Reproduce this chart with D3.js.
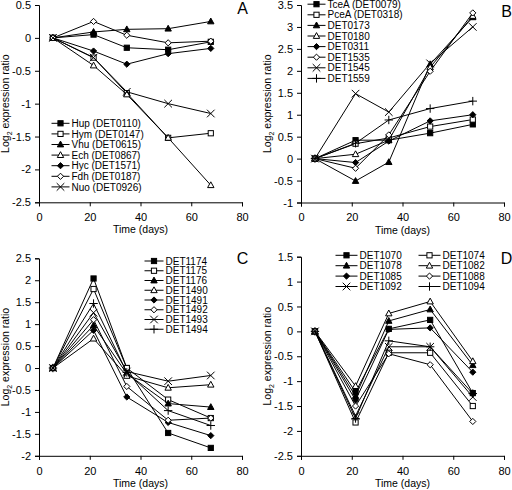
<!DOCTYPE html>
<html><head><meta charset="utf-8">
<script src="https://cdn.jsdelivr.net/npm/d3@7"></script>
<style>body{margin:0;background:#fff}svg{display:block}text{font-family:"Liberation Sans",Arial,sans-serif}</style>
</head><body>
<script>
// ---- data ----
const days = [5.5, 21.5, 34.6, 50.9, 67.7];
const xTicks = [0, 20, 40, 60, 80];

const namesA = ["Hup (DET0110)","Hym (DET0147)","Vhu (DET0615)","Ech (DET0867)","Hyc (DET1571)","Fdh (DET0187)","Nuo (DET0926)"];
const valuesA = [
  [0, 0.05, -0.15, -0.18, -0.06],
  [0, -0.30, -0.84, -1.52, -1.45],
  [0, 0.09, 0.13, 0.14, 0.25],
  [0, -0.42, -0.86, -1.52, -2.24],
  [0, -0.20, -0.40, -0.24, -0.16],
  [0, 0.25, 0.04, -0.075, -0.05],
  [0, -0.30, -0.82, -1.00, -1.15]
];
const yTicksA = [0.5, 0, -0.5, -1, -1.5, -2, -2.5];

const namesB = ["TceA (DET0079)","PceA (DET0318)","DET0173","DET0180","DET0311","DET1535","DET1545","DET1559"];
const valuesB = [
  [0, 0.42, 0.42, 0.58, 0.78],
  [0, 0.34, 0.47, 0.73, 0.89],
  [0, -0.51, -0.08, 2.15, 3.22],
  [0, 0.10, 0.42, 2.08, 3.25],
  [0, -0.09, 0.40, 0.86, 1.00],
  [0, -0.22, 0.54, 1.99, 3.32],
  [0, 1.48, 1.06, 2.17, 3.00],
  [0, 0.35, 0.88, 1.14, 1.31]
];
const yTicksB = [3.5, 3, 2.5, 2, 1.5, 1, 0.5, 0, -0.5, -1];

const namesC = ["DET1174","DET1175","DET1176","DET1490","DET1491","DET1492","DET1493","DET1494"];
const valuesC = [
  [0, 2.04, 0.00, -1.48, -1.82],
  [0, 1.80, 0.00, -0.72, -1.14],
  [0, 0.97, -0.13, -0.81, -0.89],
  [0, 0.67, -0.18, -0.45, -0.38],
  [0, 0.86, -0.66, -1.24, -1.54],
  [0, 1.10, -0.42, -1.19, -1.14],
  [0, 1.26, -0.08, -0.30, -0.17],
  [0, 1.47, -0.10, -0.97, -1.31]
];
const yTicksC = [2.5, 2, 1.5, 1, 0.5, 0, -0.5, -1, -1.5, -2];

const namesD = ["DET1070","DET1074","DET1078","DET1082","DET1085","DET1088","DET1092","DET1094"];
const valuesD = [
  [0, -1.22, 0.05, 0.23, -1.24],
  [0, -1.83, -0.43, -0.43, -1.50],
  [0, -1.30, 0.21, 0.44, -0.68],
  [0, -1.10, 0.36, 0.60, -0.60],
  [0, -1.38, 0.04, 0.07, -0.82],
  [0, -1.50, -0.45, -0.67, -1.81],
  [0, -1.70, -0.31, -0.31, -1.32],
  [0, -1.75, -0.19, -0.31, -1.25]
];
const yTicksD = [1.5, 1, 0.5, 0, -0.5, -1, -1.5, -2, -2.5];

const markerTypes = ["sq","sqo","tri","trio","dia","diao","x","plus"];

// ---- drawing ----
const svg = d3.select("body").append("svg").attr("width", 512).attr("height", 490);

function drawMarker(g, type, x, y) {
  let el;
  if (type === "sq" || type === "sqo") {
    el = g.append("rect").attr("x", x-2.6).attr("y", y-2.6).attr("width", 5.2).attr("height", 5.2)
      .attr("fill", type === "sq" ? "#000" : "#fff");
  } else if (type === "tri" || type === "trio") {
    el = g.append("path").attr("d", `M${x},${y-3.4}L${x+3.2},${y+2.4}L${x-3.2},${y+2.4}Z`)
      .attr("fill", type === "tri" ? "#000" : "#fff");
  } else if (type === "dia" || type === "diao") {
    el = g.append("path").attr("d", `M${x},${y-3.1}L${x+3.1},${y}L${x},${y+3.1}L${x-3.1},${y}Z`)
      .attr("fill", type === "dia" ? "#000" : "#fff");
  } else if (type === "x") {
    el = g.append("path").attr("d", `M${x-3.8},${y-3.8}L${x+3.8},${y+3.8}M${x-3.8},${y+3.8}L${x+3.8},${y-3.8}`)
      .attr("fill", "none");
  } else {
    el = g.append("path").attr("d", `M${x-4.2},${y}L${x+4.2},${y}M${x},${y-4.2}L${x},${y+4.2}`)
      .attr("fill", "none");
  }
  el.attr("stroke", "#000").attr("stroke-width", 1);
}

const fmt = v => String(v);

function panel(cfg) {
  const x = d3.scaleLinear().domain([0, 80]).range([cfg.left, cfg.left + 203]);
  const y = d3.scaleLinear().domain(cfg.yDomain).range([cfg.bottom, cfg.top]);
  const g = svg.append("g");

  const ya = g.append("g").attr("transform", `translate(${cfg.left},0)`)
    .call(d3.axisLeft(y).tickValues(cfg.yTicks).tickSize(4).tickPadding(4).tickFormat(fmt));
  const xa = g.append("g").attr("transform", `translate(0,${cfg.bottom})`)
    .call(d3.axisBottom(x).tickValues(xTicks).tickSize(4).tickPadding(7).tickFormat(d3.format("d")));
  [ya, xa].forEach(a => {
    a.select(".domain").attr("stroke", "#000").attr("stroke-width", 1);
    a.selectAll(".tick line").attr("stroke", "#000");
    a.selectAll(".tick text").attr("fill", "#000").style("font-size", "11px")
      .style("font-family", '"Liberation Sans", Arial, sans-serif');
  });

  g.append("text").attr("x", cfg.left + 101.5).attr("y", cfg.bottom + 31)
    .attr("text-anchor", "middle").style("font-size", "10.5px").text("Time (days)");

  const yl = g.append("text")
    .attr("transform", `translate(${cfg.left - 30},${(cfg.top + cfg.bottom) / 2}) rotate(-90)`)
    .attr("text-anchor", "middle").style("font-size", "10.5px");
  yl.append("tspan").text("Log");
  yl.append("tspan").attr("dy", 2.5).style("font-size", "7px").text("2");
  yl.append("tspan").attr("dy", -2.5).text(" expression ratio");

  g.append("text").attr("x", cfg.letterX).attr("y", cfg.letterY).attr("text-anchor", "middle")
    .style("font-size", "16px").text(cfg.letter);

  const line = d3.line().x((d, i) => x(days[i])).y(d => y(d));
  cfg.values.forEach((vals, si) => {
    const sg = g.append("g");
    sg.append("path").attr("d", line(vals)).attr("fill", "none").attr("stroke", "#000").attr("stroke-width", 1);
    vals.forEach((v, i) => drawMarker(sg, markerTypes[si], x(days[i]), y(v)));
  });

  // legend
  const colW = cfg.legColW || 0;
  cfg.names.forEach((name, si) => {
    const col = cfg.legCols === 2 ? si % 2 : 0;
    const row = cfg.legCols === 2 ? Math.floor(si / 2) : si;
    const lx = cfg.legX + col * colW;
    const ly = cfg.legY + row * cfg.legDy;
    const lg = g.append("g");
    lg.append("line").attr("x1", lx).attr("x2", lx + cfg.legLen).attr("y1", ly).attr("y2", ly)
      .attr("stroke", "#000").attr("stroke-width", 1);
    drawMarker(lg, markerTypes[si], lx + cfg.legLen / 2, ly);
    lg.append("text").attr("x", lx + cfg.legLen + 2).attr("y", ly + 3.6).style("font-size", "10px").text(name);
  });
}

panel({left: 39, top: 5, bottom: 202.3, yDomain: [-2.5, 0.5], yTicks: yTicksA, values: valuesA, names: namesA,
  letter: "A", letterX: 242.5, letterY: 13.5,
  legX: 51.5, legY: 123.3, legDy: 10.6, legLen: 18, legCols: 1});
panel({left: 301, top: 5, bottom: 202.5, yDomain: [-1, 3.5], yTicks: yTicksB, values: valuesB, names: namesB,
  letter: "B", letterX: 506.5, letterY: 16.5,
  legX: 307.5, legY: 4.2, legDy: 10.6, legLen: 18, legCols: 1});
panel({left: 39, top: 258.3, bottom: 455.8, yDomain: [-2, 2.5], yTicks: yTicksC, values: valuesC, names: namesC,
  letter: "C", letterX: 242.5, letterY: 263.5,
  legX: 144.5, legY: 261, legDy: 9.75, legLen: 19, legCols: 1});
panel({left: 301, top: 256.7, bottom: 455.8, yDomain: [-2.5, 1.5], yTicks: yTicksD, values: valuesD, names: namesD,
  letter: "D", letterX: 506.5, letterY: 263.5,
  legX: 335.5, legY: 255.3, legDy: 10.4, legLen: 22, legCols: 2, legColW: 83});
</script>
</body></html>
